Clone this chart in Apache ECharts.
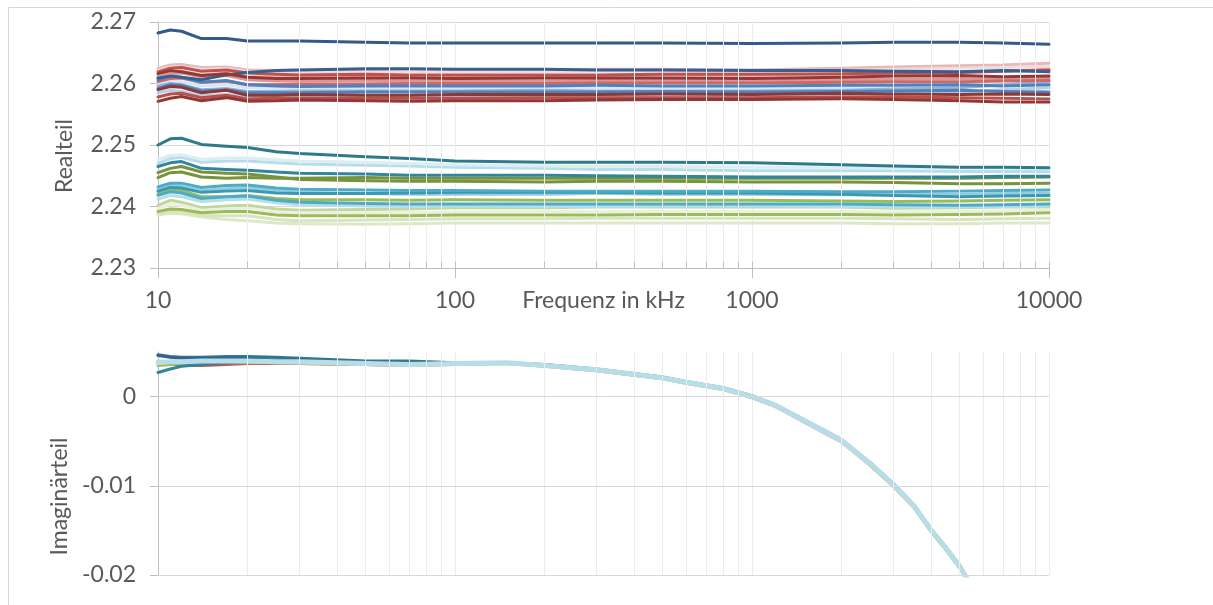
<!DOCTYPE html>
<html>
<head>
<meta charset="utf-8">
<script src="https://cdn.jsdelivr.net/npm/echarts@6/dist/echarts.min.js"></script>
<style>
  html, body { margin: 0; padding: 0; background: #fff; overflow: hidden; }
  #chart { width: 1213px; height: 605px; }
</style>
</head>
<body>
<div id="chart"></div>
<script>
// Frequencies (kHz) of the real-part sweep
const freqRe = [10, 11, 12, 14, 17, 20, 25, 30, 50, 70, 100, 200, 300, 500, 1000, 2000, 3000, 5000, 7000, 10000];
// Frequencies (kHz) of the imaginary-part sweep
const freqIm = [10, 11, 12, 14, 17, 20, 25, 30, 50, 70, 100, 150, 200, 300, 400, 500, 600, 800, 1000, 1200, 1500, 2000, 2500, 3000, 3500, 4000, 4500, 5000, 5500];

// Log-axis sub-decade grid positions
const minorFreq = [20, 30, 40, 50, 60, 70, 80, 90, 200, 300, 400, 500, 600, 700, 800, 900, 2000, 3000, 4000, 5000, 6000, 7000, 8000, 9000];
const decadeFreq = [10, 100, 1000, 10000];
// Tick values of the Imaginärteil axis
const imTicks = [-0.02, -0.01, 0];

// Realteil – upper group
const re01 = [2.2682, 2.2687, 2.2685, 2.2673, 2.2673, 2.2669, 2.2669, 2.2669, 2.2667, 2.2666, 2.2666, 2.2666, 2.2666, 2.2666, 2.2665, 2.2666, 2.2667, 2.2667, 2.2666, 2.2664];
const re02 = [2.2609, 2.2612, 2.2610, 2.2606, 2.2614, 2.2618, 2.2621, 2.2622, 2.2624, 2.2624, 2.2623, 2.2623, 2.2622, 2.2622, 2.2621, 2.2621, 2.2620, 2.2619, 2.2621, 2.2619];
const re03 = [2.2621, 2.2627, 2.2627, 2.2623, 2.2624, 2.2619, 2.2618, 2.2618, 2.2618, 2.2619, 2.2619, 2.2619, 2.2620, 2.2620, 2.2619, 2.2621, 2.2623, 2.2625, 2.2626, 2.2628];
const re04 = [2.2624, 2.2630, 2.2631, 2.2626, 2.2627, 2.2622, 2.2621, 2.2622, 2.2621, 2.2622, 2.2622, 2.2622, 2.2623, 2.2623, 2.2622, 2.2625, 2.2627, 2.2629, 2.2630, 2.2633];
const re05 = [2.2619, 2.2625, 2.2626, 2.2620, 2.2622, 2.2617, 2.2615, 2.2614, 2.2615, 2.2614, 2.2614, 2.2614, 2.2614, 2.2615, 2.2615, 2.2616, 2.2617, 2.2618, 2.2620, 2.2622];
const re06 = [2.2613, 2.2619, 2.2620, 2.2614, 2.2617, 2.2611, 2.2611, 2.2612, 2.2612, 2.2612, 2.2612, 2.2612, 2.2613, 2.2614, 2.2613, 2.2615, 2.2617, 2.2619, 2.2620, 2.2623];
const re07 = [2.2616, 2.2621, 2.2619, 2.2613, 2.2616, 2.2610, 2.2608, 2.2608, 2.2609, 2.2609, 2.2608, 2.2609, 2.2609, 2.2609, 2.2608, 2.2610, 2.2612, 2.2613, 2.2611, 2.2612];
const re08 = [2.2610, 2.2616, 2.2617, 2.2611, 2.2613, 2.2606, 2.2604, 2.2604, 2.2605, 2.2604, 2.2604, 2.2604, 2.2605, 2.2605, 2.2604, 2.2606, 2.2607, 2.2608, 2.2607, 2.2609];
const re09 = [2.2599, 2.2604, 2.2603, 2.2596, 2.2598, 2.2593, 2.2592, 2.2592, 2.2592, 2.2592, 2.2592, 2.2593, 2.2593, 2.2593, 2.2592, 2.2594, 2.2595, 2.2596, 2.2598, 2.2600];
const re10 = [2.2606, 2.2612, 2.2610, 2.2602, 2.2605, 2.2598, 2.2596, 2.2595, 2.2596, 2.2596, 2.2596, 2.2596, 2.2597, 2.2596, 2.2596, 2.2597, 2.2597, 2.2598, 2.2596, 2.2598];
const re11 = [2.2603, 2.2608, 2.2609, 2.2602, 2.2604, 2.2598, 2.2598, 2.2599, 2.2599, 2.2600, 2.2600, 2.2600, 2.2601, 2.2601, 2.2601, 2.2602, 2.2603, 2.2603, 2.2604, 2.2605];
const re12 = [2.2596, 2.2600, 2.2598, 2.2590, 2.2592, 2.2587, 2.2587, 2.2588, 2.2588, 2.2588, 2.2588, 2.2589, 2.2588, 2.2588, 2.2588, 2.2589, 2.2591, 2.2593, 2.2598, 2.2603];
const re13 = [2.2592, 2.2598, 2.2597, 2.2588, 2.2590, 2.2585, 2.2585, 2.2585, 2.2586, 2.2586, 2.2586, 2.2586, 2.2586, 2.2587, 2.2586, 2.2587, 2.2588, 2.2589, 2.2587, 2.2586];
const re14 = [2.2590, 2.2595, 2.2594, 2.2585, 2.2589, 2.2581, 2.2581, 2.2582, 2.2581, 2.2581, 2.2582, 2.2582, 2.2582, 2.2583, 2.2582, 2.2584, 2.2583, 2.2582, 2.2583, 2.2582];
const re15 = [2.2585, 2.2589, 2.2587, 2.2580, 2.2582, 2.2578, 2.2578, 2.2578, 2.2578, 2.2578, 2.2579, 2.2579, 2.2578, 2.2578, 2.2578, 2.2580, 2.2582, 2.2586, 2.2590, 2.2593];
const re16 = [2.2578, 2.2583, 2.2584, 2.2577, 2.2581, 2.2575, 2.2576, 2.2576, 2.2576, 2.2576, 2.2576, 2.2577, 2.2577, 2.2577, 2.2577, 2.2578, 2.2578, 2.2577, 2.2576, 2.2575];
const re17 = [2.2571, 2.2576, 2.2579, 2.2572, 2.2577, 2.2571, 2.2572, 2.2573, 2.2572, 2.2571, 2.2572, 2.2572, 2.2573, 2.2574, 2.2574, 2.2575, 2.2574, 2.2572, 2.2570, 2.2570];

// Realteil – lower group
const re18 = [2.2500, 2.2510, 2.2511, 2.2501, 2.2498, 2.2496, 2.2489, 2.2486, 2.2481, 2.2478, 2.2474, 2.2472, 2.2472, 2.2472, 2.2471, 2.2468, 2.2466, 2.2464, 2.2464, 2.2463];
const re19 = [2.2476, 2.2483, 2.2484, 2.2477, 2.2479, 2.2479, 2.2476, 2.2474, 2.2472, 2.2470, 2.2468, 2.2466, 2.2465, 2.2465, 2.2464, 2.2463, 2.2462, 2.2462, 2.2462, 2.2461];
const re20 = [2.2470, 2.2478, 2.2480, 2.2472, 2.2474, 2.2474, 2.2471, 2.2469, 2.2467, 2.2466, 2.2464, 2.2462, 2.2460, 2.2460, 2.2458, 2.2458, 2.2458, 2.2457, 2.2457, 2.2457];
const re21 = [2.2465, 2.2471, 2.2473, 2.2462, 2.2460, 2.2459, 2.2456, 2.2454, 2.2453, 2.2451, 2.2451, 2.2451, 2.2450, 2.2449, 2.2448, 2.2448, 2.2448, 2.2448, 2.2449, 2.2449];
const re22 = [2.2447, 2.2455, 2.2456, 2.2448, 2.2446, 2.2447, 2.2446, 2.2446, 2.2447, 2.2446, 2.2446, 2.2446, 2.2446, 2.2446, 2.2446, 2.2446, 2.2446, 2.2446, 2.2447, 2.2448];
const re23 = [2.2455, 2.2462, 2.2465, 2.2456, 2.2454, 2.2453, 2.2448, 2.2444, 2.2442, 2.2441, 2.2441, 2.2440, 2.2441, 2.2441, 2.2440, 2.2440, 2.2439, 2.2437, 2.2437, 2.2438];
const re24 = [2.2432, 2.2438, 2.2438, 2.2431, 2.2434, 2.2435, 2.2430, 2.2428, 2.2427, 2.2426, 2.2426, 2.2425, 2.2425, 2.2425, 2.2425, 2.2424, 2.2424, 2.2425, 2.2426, 2.2427];
const re25 = [2.2428, 2.2434, 2.2433, 2.2426, 2.2429, 2.2431, 2.2426, 2.2423, 2.2421, 2.2420, 2.2420, 2.2420, 2.2421, 2.2420, 2.2420, 2.2419, 2.2419, 2.2420, 2.2421, 2.2421];
const re26 = [2.2425, 2.2431, 2.2430, 2.2423, 2.2425, 2.2426, 2.2422, 2.2421, 2.2421, 2.2422, 2.2423, 2.2423, 2.2423, 2.2422, 2.2422, 2.2420, 2.2418, 2.2416, 2.2417, 2.2418];
const re27 = [2.2421, 2.2428, 2.2426, 2.2416, 2.2416, 2.2418, 2.2413, 2.2411, 2.2411, 2.2410, 2.2411, 2.2410, 2.2410, 2.2410, 2.2410, 2.2409, 2.2408, 2.2409, 2.2410, 2.2411];
const re28 = [2.2418, 2.2424, 2.2422, 2.2413, 2.2416, 2.2417, 2.2410, 2.2407, 2.2405, 2.2404, 2.2404, 2.2404, 2.2404, 2.2404, 2.2404, 2.2404, 2.2403, 2.2402, 2.2403, 2.2404];
const re29 = [2.2412, 2.2418, 2.2416, 2.2408, 2.2411, 2.2412, 2.2406, 2.2403, 2.2401, 2.2400, 2.2401, 2.2400, 2.2400, 2.2401, 2.2401, 2.2400, 2.2399, 2.2399, 2.2400, 2.2401];
const re30 = [2.2402, 2.2410, 2.2407, 2.2398, 2.2401, 2.2402, 2.2396, 2.2394, 2.2395, 2.2396, 2.2398, 2.2398, 2.2399, 2.2399, 2.2399, 2.2399, 2.2397, 2.2398, 2.2399, 2.2399];
const re31 = [2.2397, 2.2404, 2.2402, 2.2394, 2.2396, 2.2397, 2.2391, 2.2390, 2.2390, 2.2390, 2.2391, 2.2392, 2.2392, 2.2392, 2.2392, 2.2392, 2.2391, 2.2392, 2.2393, 2.2394];
const re32 = [2.2392, 2.2396, 2.2395, 2.2390, 2.2392, 2.2392, 2.2386, 2.2385, 2.2385, 2.2385, 2.2386, 2.2386, 2.2386, 2.2387, 2.2387, 2.2387, 2.2386, 2.2387, 2.2388, 2.2390];
const re33 = [2.2388, 2.2392, 2.2391, 2.2385, 2.2385, 2.2385, 2.2379, 2.2377, 2.2378, 2.2379, 2.2380, 2.2380, 2.2381, 2.2381, 2.2381, 2.2381, 2.2380, 2.2379, 2.2380, 2.2381];
const re34 = [2.2386, 2.2389, 2.2388, 2.2383, 2.2379, 2.2377, 2.2373, 2.2372, 2.2371, 2.2372, 2.2373, 2.2373, 2.2373, 2.2373, 2.2373, 2.2373, 2.2372, 2.2372, 2.2373, 2.2373];

// Imaginärteil
const im01 = [0.0047, 0.0045, 0.0044, 0.0044, 0.0045, 0.0045, 0.0044, 0.0043, 0.0040, 0.0040, 0.0038, 0.0038, 0.0036, 0.0031, 0.0026, 0.0022, 0.0017, 0.0010, 0.0001, -0.0009, -0.0026, -0.0048, -0.0074, -0.0098, -0.0121, -0.0148, -0.0169, -0.0189, -0.0212];
const im02 = [0.0046, 0.0044, 0.0043, 0.0043, 0.0043, 0.0042, 0.0041, 0.0041, 0.0038, 0.0037, 0.0038, 0.0038, 0.0035, 0.0030, 0.0025, 0.0021, 0.0016, 0.0009, 0.0000, -0.0010, -0.0027, -0.0049, -0.0075, -0.0099, -0.0122, -0.0149, -0.0170, -0.0190, -0.0213];
const im03 = [0.0039, 0.0037, 0.0035, 0.0035, 0.0036, 0.0037, 0.0037, 0.0037, 0.0036, 0.0035, 0.0037, 0.0038, 0.0035, 0.0030, 0.0025, 0.0021, 0.0016, 0.0009, -0.0001, -0.0011, -0.0028, -0.0050, -0.0076, -0.0100, -0.0123, -0.0150, -0.0171, -0.0191, -0.0214];
const im04 = [0.0035, 0.0036, 0.0037, 0.0038, 0.0038, 0.0038, 0.0038, 0.0037, 0.0036, 0.0035, 0.0036, 0.0037, 0.0034, 0.0029, 0.0024, 0.0020, 0.0015, 0.0008, -0.0001, -0.0011, -0.0028, -0.0050, -0.0077, -0.0101, -0.0124, -0.0151, -0.0172, -0.0192, -0.0215];
const im05 = [0.0040, 0.0039, 0.0039, 0.0039, 0.0039, 0.0039, 0.0038, 0.0038, 0.0036, 0.0035, 0.0036, 0.0037, 0.0034, 0.0029, 0.0024, 0.0020, 0.0015, 0.0008, -0.0001, -0.0011, -0.0029, -0.0051, -0.0077, -0.0101, -0.0124, -0.0150, -0.0171, -0.0191, -0.0214];
const im06 = [0.0027, 0.0031, 0.0034, 0.0036, 0.0038, 0.0039, 0.0039, 0.0039, 0.0037, 0.0036, 0.0037, 0.0038, 0.0035, 0.0030, 0.0025, 0.0021, 0.0016, 0.0009, 0.0000, -0.0010, -0.0027, -0.0049, -0.0074, -0.0098, -0.0121, -0.0148, -0.0169, -0.0189, -0.0212];
const im07 = [0.0038, 0.0039, 0.0039, 0.0040, 0.0040, 0.0040, 0.0039, 0.0039, 0.0037, 0.0036, 0.0037, 0.0038, 0.0035, 0.0030, 0.0025, 0.0021, 0.0016, 0.0009, 0.0000, -0.0010, -0.0027, -0.0049, -0.0075, -0.0099, -0.0122, -0.0149, -0.0170, -0.0190, -0.0213];

// Line colours (Office theme shades)
const reLines = [
  [re04, '#E6B9B8'], [re03, '#F2DCDB'], [re06, '#E6B9B8'], [re09, '#DCE6F2'],
  [re15, '#B9CDE5'], [re12, '#95B3D7'], [re08, '#D99694'], [re11, '#CD6A67'],
  [re05, '#C0504D'], [re13, '#4F81BD'], [re10, '#4F81BD'], [re02, '#376092'],
  [re07, '#953735'], [re16, '#B7504D'], [re14, '#8C3836'], [re17, '#943634'],
  [re01, '#34598A'],
  [re34, '#DDE8C8'], [re33, '#D7E4BD'], [re30, '#C3D69B'], [re31, '#EBF1DE'],
  [re32, '#9BBB59'], [re27, '#9BBB59'], [re29, '#B7DEE8'], [re28, '#4BACC6'],
  [re25, '#93CDDD'], [re26, '#3A98B5'], [re24, '#4BACC6'], [re22, '#77933C'],
  [re23, '#77933C'], [re20, '#B7DEE8'], [re19, '#DBEEF4'], [re21, '#31859C'],
  [re18, '#2E7A8C']
];
const imLines = [
  [im01, '#2E7A8C', 3], [im02, '#376092', 3], [im03, '#C0504D', 3],
  [im04, '#9BBB59', 3], [im05, '#E6B9B8', 3], [im06, '#31859C', 3],
  [im07, '#B7DEE8', 5]
];

const FONT = 'Lato, "Open Sans", sans-serif';
const TXT = '#595959';
const AXIS = '#bfbfbf';
const HGRID = '#d9d9d9';
const VGRID = '#ececec';

const chart = echarts.init(document.getElementById('chart'), null, { renderer: 'canvas' });

const series = [];

// sub-decade grid lines, drawn through the log scale
[0, 1].forEach(g => {
  series.push({
    type: 'line', xAxisIndex: g, yAxisIndex: g, data: [], z: 1, silent: true,
    markLine: {
      silent: true, symbol: ['none', 'none'], label: { show: false }, animation: false,
      lineStyle: { color: VGRID, width: 1, type: 'solid' },
      emphasis: { disabled: true },
      data: minorFreq.map(f => ({ xAxis: f }))
    }
  });
});
// short inner ticks on the frequency axis
series.push({
  type: 'line', xAxisIndex: 0, yAxisIndex: 0, data: [], z: 3, silent: true,
  markLine: {
    silent: true, symbol: ['none', 'none'], label: { show: false }, animation: false,
    lineStyle: { color: AXIS, width: 1, type: 'solid' },
    emphasis: { disabled: true },
    data: minorFreq.concat(decadeFreq).map(f => [{ coord: [f, 2.23] }, { coord: [f, 2.231] }])
  }
});
// horizontal grid of the lower panel
series.push({
  type: 'line', xAxisIndex: 1, yAxisIndex: 1, data: [], z: 1, silent: true,
  markLine: {
    silent: true, symbol: ['none', 'none'], label: { show: false }, animation: false,
    lineStyle: { color: HGRID, width: 1, type: 'solid' },
    emphasis: { disabled: true },
    data: imTicks.map(v => ({ yAxis: v }))
  }
});

reLines.forEach(([vals, color], i) => {
  series.push({
    name: 'Re ' + (i + 1), type: 'line', xAxisIndex: 0, yAxisIndex: 0,
    data: freqRe.map((f, k) => [f, vals[k]]),
    showSymbol: false, symbol: 'none', smooth: false, z: 2,
    lineStyle: { color, width: 3, cap: 'round', join: 'round' },
    emphasis: { disabled: true }
  });
});
imLines.forEach(([vals, color, w], i) => {
  series.push({
    name: 'Im ' + (i + 1), type: 'line', xAxisIndex: 1, yAxisIndex: 1,
    data: freqIm.map((f, k) => [f, vals[k]]),
    showSymbol: false, symbol: 'none', smooth: false, z: 2, clip: true,
    lineStyle: { color, width: w, cap: 'round', join: 'round' },
    emphasis: { disabled: true }
  });
});

const xLabelFmt = v => String(Math.round(v));
const imLabelFmt = v => {
  if (v > 0.001) return '';
  if (Math.abs(v) < 1e-9) return '0';
  return String(Math.round(v * 100) / 100);
};

chart.setOption({
  animation: false,
  backgroundColor: '#ffffff',
  textStyle: { fontFamily: FONT },
  graphic: [{
    type: 'rect', silent: true, z: -10,
    shape: { x: 8.5, y: 7.5, width: 1400, height: 800 },
    style: { fill: 'none', stroke: '#d9d9d9', lineWidth: 1 }
  }],
  grid: [
    { left: 158, right: 164, top: 22, height: 246 },
    { left: 158, right: 164, top: 352, height: 223 }
  ],
  xAxis: [
    {
      type: 'log', logBase: 10, gridIndex: 0, min: 10, max: 10000,
      name: 'Frequenz in kHz', nameLocation: 'middle', nameGap: 21, nameMoveOverlap: false,
      nameTextStyle: { color: TXT, fontSize: 23, fontFamily: FONT, verticalAlign: 'top' },
      axisLine: { show: true, lineStyle: { color: AXIS, width: 1 } },
      axisTick: { show: true, inside: false, length: 10, lineStyle: { color: AXIS } },
      axisLabel: { color: TXT, fontSize: 23, fontFamily: FONT, margin: 21, formatter: xLabelFmt },
      splitLine: { show: true, lineStyle: { color: VGRID, width: 1 } },
      minorTick: { show: false }, minorSplitLine: { show: false }
    },
    {
      type: 'log', logBase: 10, gridIndex: 1, min: 10, max: 10000,
      axisLine: { show: false }, axisTick: { show: false }, axisLabel: { show: false },
      splitLine: { show: true, lineStyle: { color: VGRID, width: 1 } }
    }
  ],
  yAxis: [
    {
      type: 'value', gridIndex: 0, min: 2.23, max: 2.27, interval: 0.01,
      name: 'Realteil', nameLocation: 'middle', nameGap: 82, nameRotate: 90,
      nameTextStyle: { color: TXT, fontSize: 23, fontFamily: FONT, padding: [0, 22, 0, 0] },
      axisLine: { show: true, lineStyle: { color: AXIS, width: 1 } },
      axisTick: { show: true, length: 8, lineStyle: { color: AXIS } },
      axisLabel: { color: TXT, fontSize: 23, fontFamily: FONT, margin: 22, formatter: v => v.toFixed(2) },
      splitLine: { show: true, lineStyle: { color: HGRID, width: 1 } }
    },
    {
      type: 'value', gridIndex: 1, min: -0.02, max: 0.005, interval: 0.01,
      name: 'Imaginärteil', nameLocation: 'middle', nameGap: 82, nameRotate: 90,
      nameTextStyle: { color: TXT, fontSize: 23, fontFamily: FONT, padding: [0, 66, 0, 0] },
      axisLine: { show: true, lineStyle: { color: AXIS, width: 1 } },
      axisTick: { show: true, length: 8, lineStyle: { color: AXIS } },
      axisLabel: {
        color: TXT, fontSize: 23, fontFamily: FONT, margin: 22,
        showMinLabel: true, showMaxLabel: false, formatter: imLabelFmt
      },
      splitLine: { show: false }
    }
  ],
  series
});
</script>
</body>
</html>
